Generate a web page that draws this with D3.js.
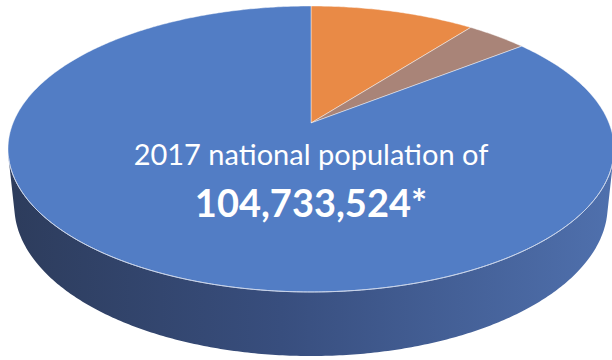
<!DOCTYPE html>
<html>
<head>
<meta charset="utf-8">
<script src="https://cdn.jsdelivr.net/npm/d3@7"></script>
<style>
  body { margin: 0; background: #fff; }
  svg { display: block; }
</style>
</head>
<body>
<div id="chart"></div>
<script>
// data (shares of the 2017 population, clockwise from 12 o'clock)
var categories = ["Group A", "Group B", "Rest of population"];
var values = [10.5, 3.9, 85.6];
var topColors = ["#e98a46", "#a98478", "#527dc5"];
var labelLine1 = "2017 national population of";
var labelLine2 = "104,733,524*";

var width = 612, height = 360;

// perspective set-up of the 3d pie (camera distance = 1)
var cx = 311, cy = 123,
    focal = 1452,
    radius = 0.2052,
    thick = 0.0445,
    sinT = 0.464, cosT = Math.sqrt(1 - 0.464 * 0.464);

// world point (angle clockwise from the back, fraction of radius, height) -> screen
function proj(a, r, y) {
  var X = radius * r * Math.sin(a),
      Z = radius * r * Math.cos(a),
      yc = Z * sinT + y * cosT,
      zc = 1 + Z * cosT - y * sinT;
  return [cx + focal * X / zc, cy - focal * yc / zc];
}

// part of the rim that faces the camera
var frontLimit = Math.acos(-radius / cosT);
var frontStart = frontLimit, frontEnd = 2 * Math.PI - frontLimit;

var svg = d3.select("#chart").append("svg")
    .attr("width", width)
    .attr("height", height);

var defs = svg.append("defs");
var grad = defs.append("linearGradient")
    .attr("id", "sideGrad")
    .attr("gradientUnits", "userSpaceOnUse")
    .attr("x1", 10).attr("x2", 612).attr("y1", 0).attr("y2", 0);
grad.append("stop").attr("offset", 0).attr("stop-color", "#2d3c5c");
grad.append("stop").attr("offset", 0.45).attr("stop-color", "#384e7e");
grad.append("stop").attr("offset", 1).attr("stop-color", "#4f70ad");

var pie = d3.pie().sort(null).value(function(d) { return d; });
var arcs = pie(values);

function arcPoints(a0, a1, y) {
  var n = Math.max(2, Math.ceil((a1 - a0) / 0.01));
  return d3.range(n + 1).map(function(i) { return proj(a0 + (a1 - a0) * i / n, 1, y); });
}
var line = d3.line();

// side walls (only front parts)
svg.append("g").attr("class", "sides")
  .selectAll("path")
  .data(arcs.filter(function(d) { return d.endAngle > frontStart && d.startAngle < frontEnd; }))
  .enter().append("path")
    .attr("d", function(d) {
      var a0 = Math.max(d.startAngle, frontStart), a1 = Math.min(d.endAngle, frontEnd);
      var pts = arcPoints(a0, a1, 0).concat(arcPoints(a0, a1, -thick).reverse());
      return line(pts) + "Z";
    })
    .attr("fill", function(d, i) { return d.index === 2 ? "url(#sideGrad)" : d3.color(topColors[d.index]).darker(1); });

// top faces
svg.append("g").attr("class", "tops")
  .selectAll("path")
  .data(arcs)
  .enter().append("path")
    .attr("d", function(d) {
      var pts = [proj(0, 0, 0)].concat(arcPoints(d.startAngle, d.endAngle, 0));
      return line(pts) + "Z";
    })
    .attr("fill", function(d) { return topColors[d.index]; })
    .attr("stroke", "rgba(255,255,255,0.55)")
    .attr("stroke-width", 0.8)
    .attr("stroke-linejoin", "round");

// light rim between top and side
svg.append("path")
    .attr("d", line(arcPoints(frontStart, frontEnd, 0)))
    .attr("fill", "none")
    .attr("stroke", "#c9d4ea")
    .attr("stroke-width", 1);

// centre label
var label = svg.append("g").attr("class", "label")
    .attr("text-anchor", "middle")
    .attr("fill", "#fff");

label.append("text")
    .attr("x", 311)
    .attr("y", 165)
    .style("font-family", "Lato, 'Open Sans', sans-serif")
    .style("font-size", "29px")
    .text(labelLine1);

label.append("text")
    .attr("x", 311)
    .attr("y", 217)
    .style("font-family", "Lato, 'Open Sans', sans-serif")
    .style("font-weight", "bold")
    .style("font-size", "38px")
    .text(labelLine2);
</script>
</body>
</html>
